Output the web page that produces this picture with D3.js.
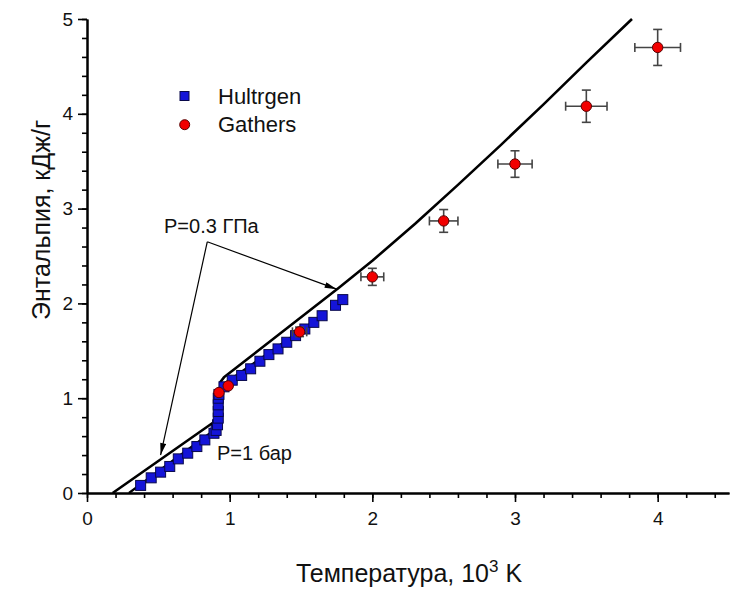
<!DOCTYPE html>
<html>
<head>
<meta charset="utf-8">
<script src="https://cdn.jsdelivr.net/npm/d3@7"></script>
<style>
body { margin: 0; background: #fff; }
svg { font-family: "Liberation Sans", Arial, sans-serif; }
.axis path, .axis line { stroke: #000; }
.axis path { stroke-width: 2; }
.axis line { stroke-width: 1.6; }
.axis text { font-size: 19px; fill: #111; }
</style>
</head>
<body>
<script>
//data (temperature in 10^3 K, enthalpy in kJ/g)
var hultX = [0.376, 0.45, 0.516, 0.58, 0.64, 0.706, 0.77, 0.826, 0.89, 0.905, 0.915, 0.92, 0.92, 0.92, 0.92, 0.925, 0.96, 1.018, 1.084, 1.147, 1.212, 1.275, 1.339, 1.40, 1.462, 1.527, 1.59, 1.648, 1.742, 1.793];
var hultY = [0.08, 0.16, 0.22, 0.28, 0.36, 0.42, 0.49, 0.56, 0.63, 0.66, 0.72, 0.79, 0.86, 0.93, 1.0, 1.04, 1.12, 1.19, 1.24, 1.31, 1.39, 1.46, 1.52, 1.59, 1.66, 1.73, 1.80, 1.87, 1.98, 2.04];

var gathX = [0.925, 0.99, 1.49, 2.0, 2.5, 3.0, 3.5, 4.0];
var gathY = [1.06, 1.13, 1.70, 2.28, 2.87, 3.47, 4.08, 4.70];
var gathXErr = [0, 0, 0.05, 0.08, 0.10, 0.12, 0.145, 0.16];
var gathYErr = [0, 0, 0.05, 0.09, 0.12, 0.14, 0.17, 0.19];

//P=0.3 GPa curve
var hpX = [0.18, 0.90, 0.935, 0.935, 0.96, 1.77, 2.0, 2.3, 2.6, 2.9, 3.2, 3.5, 3.82];
var hpY = [0.0, 0.76, 0.80, 1.17, 1.22, 2.17, 2.45, 2.84, 3.25, 3.67, 4.10, 4.54, 5.0];

//P=1 bar curve
var lpX = [0.294, 0.905, 0.925, 0.925, 0.95, 1.60];
var lpY = [0.0, 0.68, 0.72, 1.10, 1.14, 1.82];

var xTicks = [0, 1, 2, 3, 4];
var yTicks = [0, 1, 2, 3, 4, 5];

//annotation arrows: shared start, two ends
var arrowFrom = [0.843, 2.65];
var arrowTo = [[1.75, 2.15], [0.516, 0.40]];

var width = 740,
    height = 592;

var svg = d3.select("body")
    .append("svg")
    .attr("width", width)
    .attr("height", height);

var x = d3.scaleLinear().domain([0, 4.5]).range([87, 729]);
var y = d3.scaleLinear().domain([0, 5]).range([493, 19]);

//arrow marker
svg.append("defs").append("marker")
    .attr("id", "arr")
    .attr("viewBox", "0 0 12 6")
    .attr("refX", 12)
    .attr("refY", 3)
    .attr("markerWidth", 13)
    .attr("markerHeight", 6)
    .attr("markerUnits", "userSpaceOnUse")
    .attr("orient", "auto")
    .append("path")
    .attr("d", "M0,0L12,3L0,6Z")
    .attr("fill", "#000");

//minor ticks
svg.append("g")
    .attr("class", "axis")
    .attr("transform", "translate(0," + y(0) + ")")
    .call(d3.axisBottom(x).tickValues(d3.range(0, 4.5, 0.2)).tickSize(5).tickSizeOuter(0).tickFormat(""));
svg.append("g")
    .attr("class", "axis")
    .attr("transform", "translate(" + x(0) + ",0)")
    .call(d3.axisLeft(y).tickValues(d3.range(0, 5.01, 0.2)).tickSize(5).tickSizeOuter(0).tickFormat(""));

//major axes
var xAxis = svg.append("g")
    .attr("class", "axis")
    .attr("transform", "translate(0," + y(0) + ")")
    .call(d3.axisBottom(x).tickValues(xTicks).tickSize(9).tickSizeOuter(0).tickFormat(d3.format("d")));
xAxis.selectAll("text").attr("dy", "1.05em");

var yAxis = svg.append("g")
    .attr("class", "axis")
    .attr("transform", "translate(" + x(0) + ",0)")
    .call(d3.axisLeft(y).tickValues(yTicks).tickSize(9).tickSizeOuter(0).tickFormat(d3.format("d")));
yAxis.selectAll("text").attr("x", -14);

//curves
var line = d3.line()
    .x(function(d){ return x(d[0]); })
    .y(function(d){ return y(d[1]); });

svg.append("path")
    .datum(lpX.map(function(v, i){ return [v, lpY[i]]; }))
    .attr("d", line)
    .attr("fill", "none")
    .attr("stroke", "#000")
    .attr("stroke-width", 2.2);

svg.append("path")
    .datum(hpX.map(function(v, i){ return [v, hpY[i]]; }))
    .attr("d", line)
    .attr("fill", "none")
    .attr("stroke", "#000")
    .attr("stroke-width", 2.6)
    .attr("stroke-linejoin", "round");

//Hultgren squares
var sq = 10;
svg.selectAll(".hult")
    .data(hultX)
    .enter()
    .append("rect")
    .attr("class", "hult")
    .attr("x", function(d){ return x(d) - sq / 2; })
    .attr("y", function(d, i){ return y(hultY[i]) - sq / 2; })
    .attr("width", sq)
    .attr("height", sq)
    .attr("fill", "#1414d8")
    .attr("stroke", "#08084a")
    .attr("stroke-width", 1);

//Gathers error bars
var eb = svg.selectAll(".err")
    .data(gathX)
    .enter()
    .append("g")
    .attr("class", "err")
    .attr("stroke", "#444")
    .attr("stroke-width", 1.6);

eb.each(function(d, i){
    var g = d3.select(this),
        cx = x(d), cy = y(gathY[i]),
        x0 = x(d - gathXErr[i]), x1 = x(d + gathXErr[i]),
        y0 = y(gathY[i] - gathYErr[i]), y1 = y(gathY[i] + gathYErr[i]);
    if (gathXErr[i] == 0) return;
    g.append("line").attr("x1", x0).attr("x2", x1).attr("y1", cy).attr("y2", cy);
    g.append("line").attr("x1", cx).attr("x2", cx).attr("y1", y0).attr("y2", y1);
    g.append("line").attr("x1", x0).attr("x2", x0).attr("y1", cy - 4.5).attr("y2", cy + 4.5);
    g.append("line").attr("x1", x1).attr("x2", x1).attr("y1", cy - 4.5).attr("y2", cy + 4.5);
    g.append("line").attr("x1", cx - 4.5).attr("x2", cx + 4.5).attr("y1", y0).attr("y2", y0);
    g.append("line").attr("x1", cx - 4.5).attr("x2", cx + 4.5).attr("y1", y1).attr("y2", y1);
});

//Gathers circles
svg.selectAll(".gath")
    .data(gathX)
    .enter()
    .append("circle")
    .attr("class", "gath")
    .attr("cx", function(d){ return x(d); })
    .attr("cy", function(d, i){ return y(gathY[i]); })
    .attr("r", 5.2)
    .attr("fill", "#f20000")
    .attr("stroke", "#5a0000")
    .attr("stroke-width", 1);

//annotation arrows
arrowTo.forEach(function(t){
    svg.append("line")
        .attr("x1", x(arrowFrom[0]))
        .attr("y1", y(arrowFrom[1]))
        .attr("x2", x(t[0]))
        .attr("y2", y(t[1]))
        .attr("stroke", "#000")
        .attr("stroke-width", 1.2)
        .attr("marker-end", "url(#arr)");
});

svg.append("text")
    .attr("x", 164)
    .attr("y", 233)
    .attr("font-size", 20)
    .attr("fill", "#111")
    .text("P=0.3 ГПа");

svg.append("text")
    .attr("x", 217)
    .attr("y", 460)
    .attr("font-size", 20)
    .attr("fill", "#111")
    .text("P=1 бар");

//legend
var legend = svg.append("g");
legend.append("rect")
    .attr("x", 180).attr("y", 91.5).attr("width", 9).attr("height", 9)
    .attr("fill", "#1414d8").attr("stroke", "#08084a");
legend.append("circle")
    .attr("cx", 184.7).attr("cy", 124.7).attr("r", 5)
    .attr("fill", "#f20000").attr("stroke", "#5a0000");
legend.append("text")
    .attr("x", 218).attr("y", 104)
    .attr("font-size", 22).attr("fill", "#111")
    .text("Hultrgen");
legend.append("text")
    .attr("x", 218).attr("y", 132)
    .attr("font-size", 22).attr("fill", "#111")
    .text("Gathers");

//axis titles
var xt = svg.append("text")
    .attr("x", 409)
    .attr("y", 582)
    .attr("text-anchor", "middle")
    .attr("font-size", 25)
    .attr("fill", "#111");
xt.append("tspan").text("Температура, 10");
xt.append("tspan").attr("font-size", 17).attr("dy", -10).text("3");
xt.append("tspan").attr("dy", 10).text(" K");

svg.append("text")
    .attr("transform", "translate(50,220) rotate(-90)")
    .attr("text-anchor", "middle")
    .attr("font-size", 25)
    .attr("fill", "#111")
    .text("Энтальпия, кДж/г");
</script>
</body>
</html>
